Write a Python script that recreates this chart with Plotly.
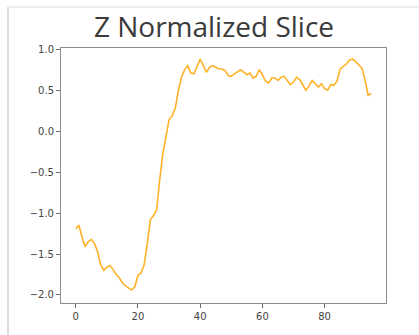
import plotly.graph_objects as go

x_idx = list(range(96))
z_values = [
    -1.195, -1.147, -1.29, -1.41, -1.35, -1.32, -1.37, -1.47, -1.63, -1.70,
    -1.66, -1.64, -1.69, -1.75, -1.79, -1.85, -1.89, -1.91, -1.94, -1.90,
    -1.76, -1.73, -1.63, -1.37, -1.08, -1.03, -0.96, -0.59, -0.27, -0.07,
    0.14, 0.19, 0.28, 0.50, 0.66, 0.75, 0.80, 0.71, 0.70, 0.79,
    0.88, 0.80, 0.72, 0.78, 0.80, 0.78, 0.76, 0.76, 0.74, 0.68,
    0.67, 0.70, 0.73, 0.75, 0.72, 0.69, 0.71, 0.65, 0.67, 0.75,
    0.69, 0.61, 0.59, 0.65, 0.65, 0.62, 0.66, 0.67, 0.62, 0.57,
    0.60, 0.66, 0.63, 0.56, 0.50, 0.55, 0.62, 0.58, 0.54, 0.58,
    0.52, 0.50, 0.57, 0.56, 0.61, 0.76, 0.79, 0.82, 0.87, 0.88,
    0.85, 0.81, 0.77, 0.63, 0.44, 0.46,
]
x_ticks = [0, 20, 40, 60, 80]
y_ticks = [1.0, 0.5, 0.0, -0.5, -1.0, -1.5, -2.0]
y_tick_text = ["1.0", "0.5", "0.0", "\u22120.5", "\u22121.0", "\u22121.5", "\u22122.0"]
title_text = "Z Normalized Slice"

W, H = 419, 335
L, R, T, B = 61, 33, 48, 32
pw, ph = W - L - R, H - T - B

fig = go.Figure()
fig.add_trace(go.Scatter(
    x=x_idx, y=z_values, mode="lines",
    line=dict(color="rgba(255,165,0,0.85)", width=1.6),
    hoverinfo="skip", showlegend=False,
))

axis_common = dict(
    showgrid=False, zeroline=False, showline=True, mirror=True,
    linecolor="#8c8c8c", linewidth=1,
    ticks="outside", ticklen=4, tickcolor="#6c6c6c", tickwidth=1,
    tickfont=dict(family="DejaVu Sans", size=10, color="#444444"),
)

fig.update_layout(
    width=W, height=H,
    margin=dict(l=L, r=R, t=T, b=B),
    paper_bgcolor="white", plot_bgcolor="white",
    title=dict(
        text=title_text, x=214 / W, xanchor="center",
        y=1 - 27 / H, yanchor="middle",
        font=dict(family="Open Sans", size=28, color="#3a3a3a"),
    ),
    xaxis=dict(range=[-4.75, 99.75], tickvals=x_ticks, **axis_common),
    yaxis=dict(range=[-2.098, 1.016], tickvals=y_ticks, ticktext=y_tick_text, **axis_common),
)

# cell-frame lines
xl = (8 - L) / pw
xr = (W - L) / pw
yt = (H - B - 7) / ph
yb = (H - B - H) / ph
fig.add_shape(type="line", xref="paper", yref="paper", x0=xl, x1=xl, y0=yb, y1=yt,
              line=dict(color="#dddddd", width=2))
fig.add_shape(type="line", xref="paper", yref="paper", x0=xl, x1=xr, y0=yt, y1=yt,
              line=dict(color="#dddddd", width=1))

fig.write_html("out.html")
